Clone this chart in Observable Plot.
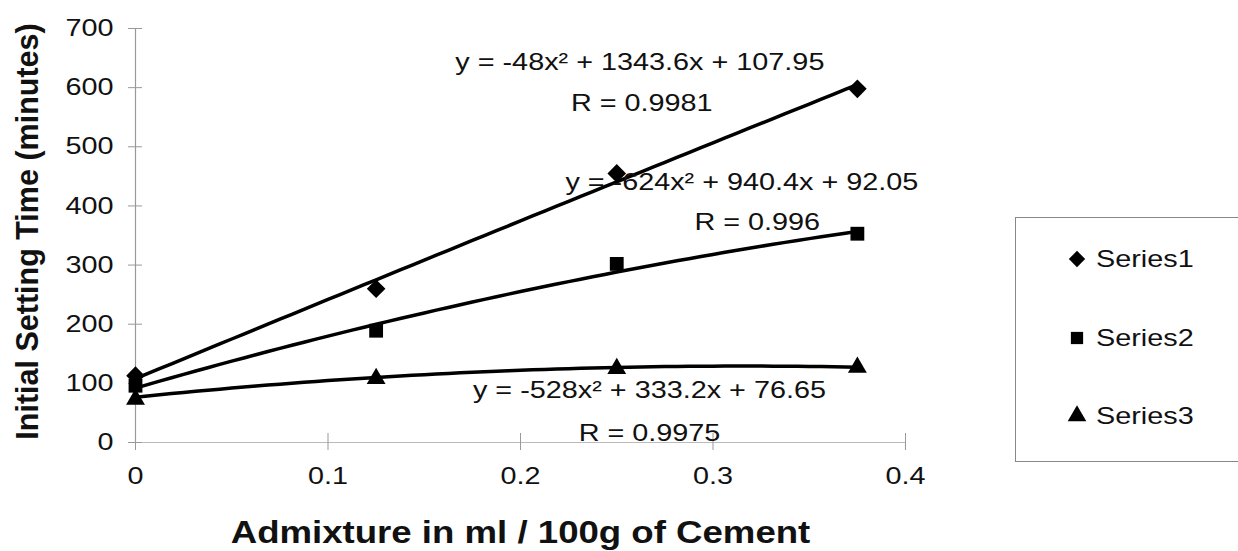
<!DOCTYPE html>
<html>
<head>
<meta charset="utf-8">
<script src="https://cdn.jsdelivr.net/npm/d3@7"></script>
<script src="https://cdn.jsdelivr.net/npm/@observablehq/plot@0.6"></script>
<style>
  html, body { margin: 0; padding: 0; background: #fff; overflow: hidden; }
  #wrap { position: relative; width: 1238px; height: 551px; font-family: "Liberation Sans", Arial, sans-serif; }
  #legend { position: absolute; left: 1015px; top: 217px; width: 240px; height: 245px; border: 1px solid #888; box-sizing: border-box; background: #fff; }
  .item { position: absolute; left: 50px; height: 30px; display: flex; align-items: center; }
  .item svg { width: 22px; height: 22px; margin-right: 8px; }
  .item span { font-size: 24px; color: #111; display: inline-block; transform: scaleX(1.2); transform-origin: left center; }
</style>
</head>
<body>
<div id="wrap"></div>
<script>
// ---- data ----
const xValues = [0, 0.125, 0.25, 0.375];
const seriesNames = ["Series1", "Series2", "Series3"];
const series1 = [113, 260, 455, 598];
const series2 = [96, 189, 302, 353];
const series3 = [73, 108, 125, 127];
const seriesSymbols = ["diamond2", "square", "triangle"];
// trendline coefficients shown on the chart (y = a x^2 + b x + c)
const coefA = [-48, -624, -528];
const coefB = [1343.6, 940.4, 333.2];
const coefC = [107.95, 92.05, 76.65];
const eqTexts = ["y = -48x² + 1343.6x + 107.95", "R = 0.9981",
                 "y = -624x² + 940.4x + 92.05", "R = 0.996",
                 "y = -528x² + 333.2x + 76.65", "R = 0.9975"];
const eqX = [0.262, 0.263, 0.315, 0.323, 0.267, 0.267];
const eqY = [642, 573, 440, 372, 88, 15];
const xTicks = [0, 0.1, 0.2, 0.3, 0.4];
const xTickLabels = ["0", "0.1", "0.2", "0.3", "0.4"];
const yTicks = [0, 100, 200, 300, 400, 500, 600, 700];
const yTickLabels = ["0", "100", "200", "300", "400", "500", "600", "700"];
const xTitle = "Admixture in ml / 100g of Cement";
const yTitle = "Initial Setting Time (minutes)";

// ---- derived tables ----
const allSeries = [series1, series2, series3];
const seriesPoints = allSeries.map((vals, i) => vals.map((v, j) => ({x: xValues[j], y: v, s: seriesNames[i]})));
const markerR = [8.4, 7.8, 7];
const trend = [];
const xMax = xValues[xValues.length - 1];
const steps = 60;
seriesNames.forEach((name, i) => {
  for (let k = 0; k <= steps; k++) {
    const x = xMax * k / steps;
    trend.push({x, y: coefA[i] * x * x + coefB[i] * x + coefC[i], s: name});
  }
});
const eqs = eqTexts.map((t, i) => ({text: t, x: eqX[i], y: eqY[i]}));

const plot = Plot.plot({
  width: 1238,
  height: 551,
  marginLeft: 135,
  marginRight: 333,
  marginTop: 28,
  marginBottom: 109,
  style: {fontFamily: '"Liberation Sans", Arial, sans-serif', fontSize: "24px", color: "#111", background: "transparent"},
  x: {domain: [0, 0.4], axis: null},
  y: {domain: [0, 700], axis: null},
  marks: [
    Plot.ruleY([0], {stroke: "#bbb", strokeWidth: 1.2}),
    Plot.ruleX([0], {stroke: "#999", strokeWidth: 1.2}),
    // crossing tick marks
    Plot.axisY({ticks: yTicks, tickSize: 14, dx: 7, tickFormat: () => "", label: null, stroke: "#999"}),
    Plot.axisX({ticks: xTicks, tickSize: 17, dy: -9, tickFormat: () => "", label: null, stroke: "#999"}),
    // tick labels
    Plot.axisY({ticks: yTicks, tickSize: 0, tickPadding: 22, tickFormat: d => yTickLabels[yTicks.indexOf(d)], label: null, fontSize: 24, fill: "#111"}),
    Plot.axisX({ticks: xTicks, tickSize: 0, tickPadding: 24, tickFormat: d => xTickLabels[xTicks.indexOf(d)], label: null, fontSize: 24, fill: "#111"}),
    // titles
    Plot.text([yTitle], {frameAnchor: "left", textAnchor: "middle", lineAnchor: "middle", rotate: -90, dx: -107, dy: -4, text: d => d, fontSize: 30.5, fontWeight: "bold", fill: "#111"}),
    Plot.text([xTitle], {frameAnchor: "bottom", dy: 91, text: d => d, fontSize: 30.5, fontWeight: "bold", fill: "#111", lineAnchor: "middle"}),
    // trend lines
    Plot.line(trend, {x: "x", y: "y", z: "s", stroke: "#000", strokeWidth: 3.5, curve: "linear"}),
    // markers
    ...seriesPoints.map((pts, i) => Plot.dot(pts, {x: "x", y: "y", symbol: seriesSymbols[i], r: markerR[i], fill: "#000", stroke: "none"})),
    // equation labels
    Plot.text(eqs, {x: "x", y: "y", text: "text", fontSize: 24, fill: "#111", textAnchor: "middle"})
  ]
});

const wrap = document.getElementById("wrap");
wrap.appendChild(plot);

// widen glyphs horizontally to match the reference's stretched text (not the rotated title)
plot.querySelectorAll("text").forEach(t => {
  const tr = (t.getAttribute("transform") || "") + ((t.parentNode && t.parentNode.getAttribute && t.parentNode.getAttribute("transform")) || "");
  if (tr.includes("rotate")) return;
  const len = t.getComputedTextLength();
  if (len > 0) {
    t.setAttribute("textLength", (len * 1.2).toFixed(1));
    t.setAttribute("lengthAdjust", "spacingAndGlyphs");
  }
});

// legend
const legend = document.createElement("div");
legend.id = "legend";
const itemTops = [26, 105, 183];
seriesNames.forEach((name, i) => {
  const item = document.createElement("div");
  item.className = "item";
  item.style.top = itemTops[i] + "px";
  const symType = {diamond2: d3.symbolDiamond2, square: d3.symbolSquare, triangle: d3.symbolTriangle}[seriesSymbols[i]];
  const size = {diamond2: 170, square: 150, triangle: 150}[seriesSymbols[i]];
  const svg = d3.create("svg").attr("viewBox", "-11 -11 22 22");
  svg.append("path").attr("d", d3.symbol(symType, size)()).attr("fill", "#000");
  item.appendChild(svg.node());
  const span = document.createElement("span");
  span.textContent = name;
  item.appendChild(span);
  legend.appendChild(item);
});
wrap.appendChild(legend);
</script>
</body>
</html>
